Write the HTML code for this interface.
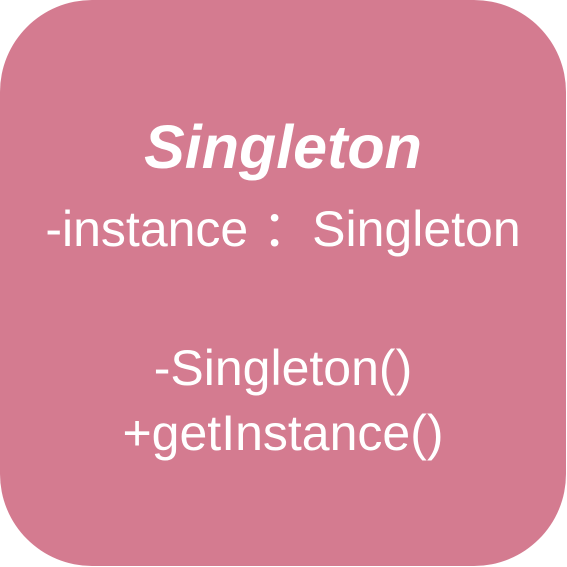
<!DOCTYPE html>
<html><head><style>
html,body{margin:0;padding:0;background:#fff;}
.box{position:absolute;left:0;top:0;width:566px;height:566px;background:#D47B90;border-radius:92px;}
.t{position:absolute;left:0;width:566px;text-align:center;color:#fff;font-family:"Liberation Sans","Noto Sans CJK SC",sans-serif;white-space:nowrap;}
</style></head><body>
<div class="box"></div>
<div class="t" style="top:112px;font-size:61px;font-weight:bold;font-style:italic;">Singleton</div>
<div class="t" style="top:189px;font-size:50px;">-instance ：Singleton</div>
<div class="t" style="top:339px;font-size:50px;">-Singleton()</div>
<div class="t" style="top:404px;font-size:50px;">+getInstance()</div>
</body></html>
